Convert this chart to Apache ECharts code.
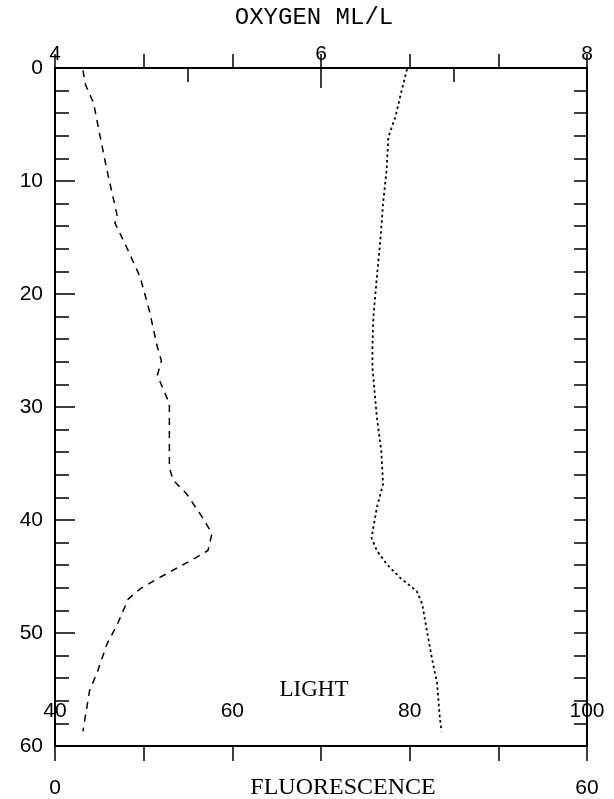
<!DOCTYPE html>
<html>
<head>
<meta charset="utf-8">
<script src="https://cdn.jsdelivr.net/npm/echarts@6/dist/echarts.min.js"></script>
<style>
  html, body { margin: 0; padding: 0; background: #fff; }
  #chart { width: 614px; height: 799px; }
</style>
</head>
<body>
<div id="chart"></div>
<script>
// depth profile: oxygen (dashed, top axis) and light (dotted, inner bottom axis)
const oxygenDepth = [0.2, 1.5, 3.1, 6.1, 9.0, 11.1, 13.2, 13.7, 15.9, 18.5, 21.5, 24.7, 25.9, 27.2, 29.7, 35.4, 36.5, 37.7, 39.8, 41.2, 42.7, 43.4, 44.1, 45.2, 46.1, 47.0, 49.2, 51.0, 53.4, 55.1, 58.7];
const oxygenValues = [4.21, 4.23, 4.29, 4.34, 4.39, 4.43, 4.47, 4.45, 4.54, 4.64, 4.71, 4.77, 4.80, 4.77, 4.86, 4.86, 4.89, 4.99, 5.11, 5.18, 5.15, 5.05, 4.94, 4.77, 4.64, 4.55, 4.47, 4.39, 4.32, 4.26, 4.21];

const lightDepth = [0.1, 2.0, 4.3, 6.1, 9.0, 12.0, 15.2, 18.5, 22.1, 24.7, 26.5, 30.9, 33.9, 36.8, 38.9, 41.6, 42.7, 43.9, 45.1, 46.3, 47.4, 49.6, 52.2, 54.5, 57.5, 58.7];
const lightValues = [79.7, 79.1, 78.4, 77.6, 77.4, 77.0, 76.7, 76.3, 75.9, 75.8, 75.8, 76.3, 76.8, 77.0, 76.3, 75.7, 76.3, 77.4, 78.9, 80.8, 81.4, 81.9, 82.5, 83.1, 83.4, 83.6];

// axis ranges / tick labels
const depthRange = [0, 60];
const oxygenRange = [4, 8];
const lightRange = [40, 100];
const fluorRange = [0, 60];
const fluorLabels = [0, 60];

const chart = echarts.init(document.getElementById('chart'));

const labelFont = { color: '#000', fontSize: 21, fontFamily: 'Liberation Sans' };
const axLine = { show: true, lineStyle: { color: '#000', width: 2 } };

function zip(ys, xs) {
  return xs.map((x, i) => [x, ys[i]]);
}

chart.setOption({
  animation: false,
  grid: { left: 55, right: 27, top: 68, bottom: 53, containLabel: false, outerBoundsMode: 'none' },
  xAxis: [
    {
      // oxygen, top
      type: 'value', position: 'top',
      min: oxygenRange[0], max: oxygenRange[1], interval: 2,
      name: 'OXYGEN ML/L', nameLocation: 'middle', nameGap: 50, nameMoveOverlap: false,
      nameTextStyle: { color: '#000', fontSize: 24, fontFamily: 'Liberation Mono', verticalAlign: 'middle', padding: [0, 14, 0, 0] },
      axisLine: axLine,
      axisTick: { inside: true, length: 20, lineStyle: { color: '#000', width: 1.5 } },
      minorTick: { show: true, splitNumber: 2, length: 14, lineStyle: { color: '#000', width: 1.5 } },
      axisLabel: Object.assign({ margin: 3 }, labelFont),
      splitLine: { show: false }
    },
    {
      // light, bottom, labels inside
      type: 'value', position: 'bottom',
      min: lightRange[0], max: lightRange[1], interval: 20,
      name: 'LIGHT', nameLocation: 'middle', nameGap: -56, nameMoveOverlap: false,
      nameTextStyle: { color: '#000', fontSize: 23, fontFamily: 'Liberation Serif', verticalAlign: 'middle', padding: [0, 14, 0, 0] },
      axisLine: axLine,
      axisTick: { inside: true, length: 14, lineStyle: { color: '#000', width: 1.5 } },
      minorTick: { show: true, splitNumber: 2, length: 14, lineStyle: { color: '#000', width: 1.5 } },
      axisLabel: Object.assign({ inside: true, margin: 24 }, labelFont),
      splitLine: { show: false }
    },
    {
      // fluorescence, bottom
      type: 'value', position: 'bottom',
      min: fluorRange[0], max: fluorRange[1], interval: 10,
      name: 'FLUORESCENCE', nameLocation: 'middle', nameGap: 42, nameMoveOverlap: false,
      nameTextStyle: { color: '#000', fontSize: 24, fontFamily: 'Liberation Serif', verticalAlign: 'middle', padding: [0, 0, 0, 44] },
      axisLine: axLine,
      axisTick: { inside: false, length: 15, lineStyle: { color: '#000', width: 1.5 } },
      axisLabel: Object.assign({
        margin: 32,
        formatter: v => fluorLabels.indexOf(v) >= 0 ? String(v) : ''
      }, labelFont),
      splitLine: { show: false }
    }
  ],
  yAxis: [
    {
      type: 'value', inverse: true, position: 'left',
      min: depthRange[0], max: depthRange[1], interval: 10,
      axisLine: axLine,
      axisTick: { inside: true, length: 20, lineStyle: { color: '#000', width: 1.5 } },
      minorTick: { show: true, splitNumber: 5, length: 14, lineStyle: { color: '#000', width: 1.5 } },
      axisLabel: Object.assign({ margin: 12 }, labelFont),
      splitLine: { show: false }
    },
    {
      type: 'value', inverse: true, position: 'right',
      min: depthRange[0], max: depthRange[1], interval: 10,
      axisLine: axLine,
      axisTick: { inside: true, length: 13, lineStyle: { color: '#000', width: 1.5 } },
      minorTick: { show: true, splitNumber: 5, length: 13, lineStyle: { color: '#000', width: 1.5 } },
      axisLabel: { show: false },
      splitLine: { show: false }
    }
  ],
  series: [
    {
      name: 'Oxygen', type: 'line', xAxisIndex: 0, yAxisIndex: 0,
      data: zip(oxygenDepth, oxygenValues),
      showSymbol: false, smooth: false,
      lineStyle: { color: '#000', width: 1.5, type: [7, 6] }
    },
    {
      name: 'Light', type: 'line', xAxisIndex: 1, yAxisIndex: 0,
      data: zip(lightDepth, lightValues),
      showSymbol: false, smooth: false,
      lineStyle: { color: '#000', width: 1.8, type: [2.5, 3] }
    }
  ]
});
</script>
</body>
</html>
